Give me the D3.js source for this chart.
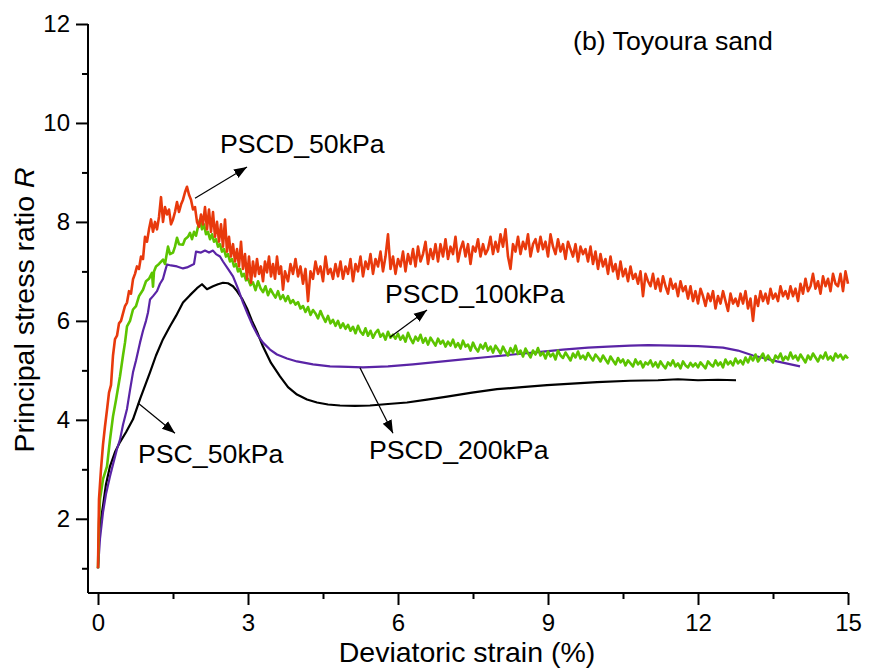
<!DOCTYPE html>
<meta charset="utf-8">
<head>
  <title>Principal stress ratio - Toyoura sand</title>
  <script src="https://d3js.org/d3.v7.min.js"></script>
</head>
<style>
body { margin: 0; background: #fff; }
svg { display: block; }
text { font-family: "Liberation Sans", Arial, sans-serif; fill: #000; }
.axis path, .axis line { stroke: #000; stroke-width: 2px; }
.axis text { font-size: 24px; }
.curve { fill: none; stroke-linejoin: round; }
.note { font-size: 26.7px; }
.title { font-size: 28.5px; }
.pointer { stroke: #000; stroke-width: 1.2px; }
</style>
<body>
<script>
var width = 869,
  height = 671

// rising part of each test: [strain %, R]
var pscd50Start = [[0,1.0],[0.02,2.4],[0.06,3.0],[0.1,3.5],[0.14,3.87],[0.18,4.2],[0.22,4.55],[0.26,4.7],[0.3,5.3],[0.34,5.63],
  [0.38,5.7],[0.42,5.95],[0.46,6.0],[0.5,6.15],[0.54,6.3],[0.58,6.37],[0.62,6.6],[0.66,6.55],[0.7,6.84],[0.74,6.95],
  [0.78,7.1],[0.82,7.05],[0.86,7.3],[0.9,7.25],[0.94,7.7],[0.98,7.6],[1.02,7.85],[1.06,8.05],[1.1,7.8],[1.14,8.0],
  [1.18,7.85],[1.22,8.1],[1.26,8.5],[1.3,8.0],[1.34,8.3],[1.38,8.15],[1.42,8.25],[1.46,7.95],[1.5,8.05],[1.54,8.2],
  [1.58,8.4],[1.62,8.2],[1.66,8.35],[1.7,8.45],[1.74,8.6],[1.78,8.71],[1.82,8.55],[1.86,8.45],[1.9,8.25],[1.94,8.3],
  [1.98,8.0],[2.02,7.9],[2.06,8.15],[2.1,7.95],[2.14,8.3],[2.18,7.85],[2.22,8.25],[2.26,7.8],[2.3,8.2],[2.34,7.7],
  [2.38,8.0],[2.42,7.6],[2.46,7.95],[2.5,7.5],[2.54,8.05],[2.58,7.4],[2.62,7.7],[2.66,7.3],[2.7,7.55],[2.74,7.2],
  [2.78,7.45],[2.82,7.1],[2.86,7.6],[2.9,7.05],[2.94,7.35],[2.98,6.85],[3.02,7.3],[3.06,6.77],[3.1,7.2],[3.14,6.9],
  [3.18,7.25],[3.22,6.95],[3.26,7.1],[3.3,6.8],[3.34,7.2],[3.38,6.98],[3.42,7.3],[3.46,6.9],[3.5,7.15],[3.54,6.85],
  [3.58,7.3],[3.62,6.95],[3.66,7.1],[3.7,6.63],[3.74,7.0]]

// PSCD_50kPa after the peak, sampled every 0.05 % from 3.80 %
var pscd50From = 3.8, pscd50Step = 0.05
var pscd50Tail = [
  6.80,7.15,6.95,7.25,6.90,7.10,6.75,7.05,6.40,7.00,6.85,7.20,6.95,7.10,6.80,7.30,6.95,7.05,6.85,7.15,
  6.90,7.20,6.85,7.10,6.95,7.25,6.80,7.15,7.00,7.30,6.90,7.20,7.05,7.35,6.95,7.25,7.10,7.40,7.00,7.30,
  7.75,7.05,7.30,6.95,7.25,7.10,7.40,7.00,7.35,7.15,7.45,7.10,7.50,7.20,7.35,7.60,7.15,7.45,7.25,7.55,
  7.20,7.55,7.30,7.65,7.25,7.50,7.35,7.70,7.20,7.45,7.60,7.30,7.55,7.15,7.50,7.40,7.65,7.30,7.55,7.35,
  7.45,7.70,7.35,7.60,7.40,7.75,7.50,7.85,7.30,7.05,7.55,7.40,7.70,7.35,7.60,7.45,7.75,7.30,7.55,7.65,
  7.40,7.70,7.45,7.60,7.30,7.75,7.50,7.35,7.65,7.40,7.55,7.25,7.60,7.45,7.30,7.55,7.20,7.50,7.35,7.45,
  7.20,7.50,7.15,7.40,7.05,7.35,7.10,7.25,6.95,7.30,7.00,7.15,6.85,7.20,6.90,7.05,6.80,7.10,6.85,6.95,
  6.75,7.00,6.50,6.95,6.80,6.70,6.95,6.65,6.85,6.60,6.90,6.70,6.55,6.85,6.65,6.75,6.50,6.80,6.60,6.70,
  6.45,6.70,6.40,6.60,6.35,6.65,6.50,6.30,6.55,6.40,6.60,6.25,6.50,6.35,6.60,6.40,6.20,6.55,6.35,6.45,
  6.30,6.55,6.35,6.60,6.25,6.45,6.00,6.50,6.30,6.60,6.40,6.55,6.35,6.65,6.45,6.55,6.40,6.70,6.50,6.60,
  6.45,6.70,6.50,6.65,6.40,6.75,6.55,6.85,6.60,6.70,6.95,6.65,6.80,6.55,6.90,6.70,6.85,6.60,6.95,6.75,
  6.70,6.95,6.60,7.00,6.75]

var pscd100Start = [[0,1.0],[0.02,1.9],[0.04,2.4],[0.1,2.8],[0.18,3.06],[0.24,3.6],[0.3,4.07],[0.36,4.4],[0.44,4.88],[0.5,5.3],
  [0.54,5.56],[0.58,5.89],[0.64,6.0],[0.7,6.23],[0.76,6.3],[0.82,6.5],[0.9,6.63],[0.96,6.8],[1.02,6.85],[1.08,6.97],
  [1.1,6.69],[1.12,7.0],[1.16,7.1],[1.22,7.15],[1.3,7.24],[1.34,7.15],[1.4,7.5],[1.44,7.35],[1.5,7.38],[1.54,7.5],
  [1.58,7.68],[1.62,7.55],[1.7,7.54],[1.74,7.65],[1.8,7.7],[1.84,7.78],[1.88,7.65],[1.92,7.8],[1.96,7.72],[2.0,7.9],
  [2.04,8.05],[2.08,7.85],[2.12,7.95],[2.16,7.75],[2.2,7.8],[2.24,7.65],[2.28,7.75],[2.32,7.6],[2.36,7.65],[2.4,7.5],
  [2.44,7.55],[2.48,7.4],[2.52,7.45],[2.56,7.3],[2.6,7.35],[2.64,7.2],[2.68,7.25],[2.72,7.1],[2.76,7.15],[2.8,7.0],
  [2.84,7.05],[2.88,6.9],[2.92,6.95],[2.96,6.82]]

var pscd100From = 3.0, pscd100Step = 0.05
var pscd100Tail = [
  6.85,6.72,6.78,6.62,6.80,6.66,6.58,6.70,6.52,6.64,6.55,6.47,6.60,6.44,6.52,6.40,6.50,6.36,6.42,6.33,
  6.38,6.25,6.30,6.18,6.28,6.12,6.22,6.15,6.05,6.20,6.08,5.98,6.10,5.95,6.02,5.90,6.00,5.86,5.95,5.84,
  5.92,5.80,5.88,5.75,5.90,5.78,5.72,5.85,5.70,5.80,5.66,5.76,5.82,5.68,5.74,5.62,5.78,5.66,5.72,5.64,
  5.74,5.62,5.70,5.58,5.76,5.64,5.55,5.68,5.60,5.72,5.56,5.65,5.52,5.66,5.58,5.50,5.64,5.54,5.60,5.48,
  5.58,5.50,5.62,5.47,5.55,5.44,5.60,5.48,5.52,5.40,5.56,5.45,5.38,5.52,5.44,5.55,5.40,5.48,5.36,5.50,
  5.42,5.34,5.48,5.38,5.30,5.45,5.36,5.50,5.33,5.40,5.28,5.44,5.35,5.26,5.40,5.32,5.45,5.30,5.36,5.24,
  5.38,5.28,5.34,5.22,5.40,5.30,5.25,5.36,5.28,5.20,5.34,5.26,5.38,5.24,5.30,5.22,5.35,5.27,5.20,5.32,
  5.26,5.18,5.30,5.22,5.14,5.28,5.20,5.12,5.25,5.16,5.22,5.10,5.20,5.14,5.08,5.22,5.12,5.18,5.06,5.16,
  5.12,5.20,5.08,5.16,5.06,5.18,5.10,5.04,5.16,5.10,5.20,5.08,5.14,5.04,5.18,5.10,5.06,5.15,5.08,5.14,
  5.06,5.16,5.10,5.04,5.18,5.12,5.08,5.20,5.10,5.16,5.06,5.22,5.12,5.18,5.10,5.24,5.14,5.20,5.12,5.26,
  5.16,5.28,5.20,5.32,5.18,5.26,5.34,5.20,5.30,5.22,5.16,5.30,5.24,5.34,5.20,5.28,5.22,5.36,5.24,5.30,
  5.20,5.32,5.24,5.16,5.30,5.22,5.34,5.26,5.18,5.30,5.24,5.36,5.22,5.28,5.20,5.34,5.26,5.32,5.22,5.30,
  5.24]

var pscd200 = [[0,1.0],[0.04,1.6],[0.1,2.13],[0.16,2.5],[0.24,2.86],[0.3,3.1],[0.38,3.41],[0.44,3.6],[0.5,3.9],[0.58,4.22],
  [0.64,4.6],[0.7,4.96],[0.76,5.2],[0.84,5.56],[0.9,5.8],[0.96,6.0],[1.0,6.17],[1.04,6.43],[1.1,6.5],[1.18,6.6],
  [1.24,6.75],[1.3,6.85],[1.34,7.0],[1.38,7.14],[1.46,7.12],[1.58,7.1],[1.7,7.06],[1.78,7.08],[1.86,7.12],[1.92,7.15],
  [1.96,7.40],[2.06,7.38],[2.14,7.42],[2.22,7.38],[2.3,7.42],[2.36,7.35],[2.44,7.3],[2.5,7.2],[2.6,7.05],[2.7,6.9],
  [2.8,6.65],[2.9,6.37],[3.0,6.12],[3.1,5.89],[3.2,5.7],[3.3,5.56],[3.44,5.42],[3.58,5.32],[3.78,5.24],[3.98,5.18],
  [4.3,5.12],[4.64,5.08],[5.0,5.07],[5.3,5.06],[5.8,5.08],[6.3,5.12],[6.8,5.17],[7.3,5.22],[7.8,5.27],[8.3,5.32],
  [8.8,5.37],[9.3,5.42],[9.8,5.46],[10.2,5.48],[10.64,5.50],[11.0,5.51],[11.5,5.50],[12.0,5.49],[12.5,5.46],[12.8,5.40],
  [13.1,5.30],[13.58,5.18],[14.04,5.08]]

var psc50 = [[0,1.0],[0.02,1.6],[0.06,2.0],[0.1,2.26],[0.16,2.7],[0.24,3.06],[0.34,3.35],[0.44,3.55],[0.56,3.75],[0.7,4.01],
  [0.84,4.42],[1.04,4.96],[1.16,5.3],[1.3,5.63],[1.44,5.89],[1.56,6.1],[1.7,6.37],[1.84,6.52],[1.98,6.66],[2.08,6.74],
  [2.18,6.64],[2.3,6.7],[2.4,6.74],[2.5,6.77],[2.6,6.76],[2.7,6.7],[2.78,6.6],[2.88,6.45],[2.98,6.25],[3.08,6.0],
  [3.18,5.78],[3.3,5.48],[3.46,5.15],[3.64,4.88],[3.8,4.66],[3.98,4.51],[4.18,4.41],[4.38,4.35],[4.6,4.31],[4.84,4.29],
  [5.14,4.28],[5.44,4.29],[5.8,4.32],[6.18,4.35],[6.58,4.41],[6.98,4.47],[7.48,4.55],[7.98,4.62],[8.48,4.66],[8.98,4.70],
  [9.48,4.73],[9.98,4.76],[10.64,4.79],[11.2,4.80],[11.6,4.82],[12.0,4.80],[12.4,4.81],[12.76,4.80]]

var xTicks = [0, 3, 6, 9, 12, 15]
var yTicks = [2, 4, 6, 8, 10, 12]

// labels: text anchor point, then arrow tail and head, all in data units
var notes = [
  {text: "PSCD_50kPa",  at: [2.44, 9.39], from: [1.94, 8.48], to: [2.98, 9.11]},
  {text: "PSCD_100kPa", at: [5.74, 6.36], from: [5.84, 5.67], to: [6.58, 6.22]},
  {text: "PSCD_200kPa", at: [5.42, 3.21], from: [5.24, 5.05], to: [5.90, 3.73]},
  {text: "PSC_50kPa",   at: [0.80, 3.13], from: [0.80, 4.34], to: [1.54, 3.73]}
]

function unroll(from, step, vals) {
  return vals.map(function(v, i) { return [from + i * step, v] })
}

var series = [
  {name: "PSCD_50kPa", color: "#e8390c", w: 2.6, pts: pscd50Start.concat(unroll(pscd50From, pscd50Step, pscd50Tail))},
  {name: "PSCD_100kPa", color: "#5cc400", w: 2.6, pts: pscd100Start.concat(unroll(pscd100From, pscd100Step, pscd100Tail))},
  {name: "PSCD_200kPa", color: "#5a24a6", w: 2.2, pts: pscd200},
  {name: "PSC_50kPa", color: "#000000", w: 2.2, pts: psc50}
]

var svg = d3.select("body").append("svg")
    .attr("width", width)
    .attr("height", height)

var x = d3.scaleLinear().domain([-0.2, 15]).range([88, 848])
var y = d3.scaleLinear().domain([0.5, 12]).range([593, 24])

var defs = svg.append("defs")
defs.append("marker")
    .attr("id", "head")
    .attr("viewBox", "0 0 10 10")
    .attr("refX", 10).attr("refY", 5)
    .attr("markerWidth", 13).attr("markerHeight", 13)
    .attr("markerUnits", "userSpaceOnUse")
    .attr("orient", "auto")
  .append("path")
    .attr("d", "M0,1.2 L10,5 L0,8.8 Z")
    .attr("fill", "#000")

var line = d3.line()
    .x(function(d) { return x(d[0]) })
    .y(function(d) { return y(d[1]) })

svg.selectAll(".curve")
    .data(series.slice().reverse())
  .enter().append("path")
    .attr("class", "curve")
    .attr("stroke", function(d) { return d.color })
    .attr("stroke-width", function(d) { return d.w })
    .attr("d", function(d) { return line(d.pts) })

// minor ticks first, then major
svg.append("g")
    .attr("class", "axis")
    .attr("transform", "translate(0,593)")
    .call(d3.axisBottom(x).tickValues([1.5, 4.5, 7.5, 10.5, 13.5]).tickSize(6).tickFormat(""))
    .call(function(g) { g.select(".domain").remove() })
svg.append("g")
    .attr("class", "axis")
    .attr("transform", "translate(0,593)")
    .call(d3.axisBottom(x).tickValues(xTicks).tickSize(12).tickPadding(9).tickSizeOuter(0))
    .call(function(g) { g.select(".domain").attr("d", "M88,0H848") })

svg.append("g")
    .attr("class", "axis")
    .attr("transform", "translate(88,0)")
    .call(d3.axisLeft(y).tickValues([1, 3, 5, 7, 9, 11]).tickSize(6).tickFormat(""))
    .call(function(g) { g.select(".domain").remove() })
svg.append("g")
    .attr("class", "axis")
    .attr("transform", "translate(88,0)")
    .call(d3.axisLeft(y).tickValues(yTicks).tickSize(12).tickPadding(6).tickSizeOuter(0))
    .call(function(g) { g.select(".domain").attr("d", "M0,593V24") })

svg.selectAll(".axis text").attr("fill", "#000")

// axis titles
svg.append("text")
    .attr("class", "title")
    .attr("x", 467).attr("y", 662)
    .attr("text-anchor", "middle")
    .text("Deviatoric strain (%)")

var yt = svg.append("text")
    .attr("class", "title")
    .attr("transform", "translate(34,310) rotate(-90)")
    .attr("text-anchor", "middle")
yt.append("tspan").text("Principal stress ratio ")
yt.append("tspan").style("font-style", "italic").text("R")

svg.append("text")
    .attr("class", "note")
    .attr("x", x(9.5)).attr("y", y(11.47))
    .text("(b) Toyoura sand")

// curve labels with arrows
svg.selectAll(".pointer")
    .data(notes)
  .enter().append("line")
    .attr("class", "pointer")
    .attr("x1", function(d) { return x(d.from[0]) })
    .attr("y1", function(d) { return y(d.from[1]) })
    .attr("x2", function(d) { return x(d.to[0]) })
    .attr("y2", function(d) { return y(d.to[1]) })
    .attr("marker-end", "url(#head)")

svg.selectAll(".label")
    .data(notes)
  .enter().append("text")
    .attr("class", "note label")
    .attr("x", function(d) { return x(d.at[0]) })
    .attr("y", function(d) { return y(d.at[1]) })
    .text(function(d) { return d.text })
</script>
</body>
